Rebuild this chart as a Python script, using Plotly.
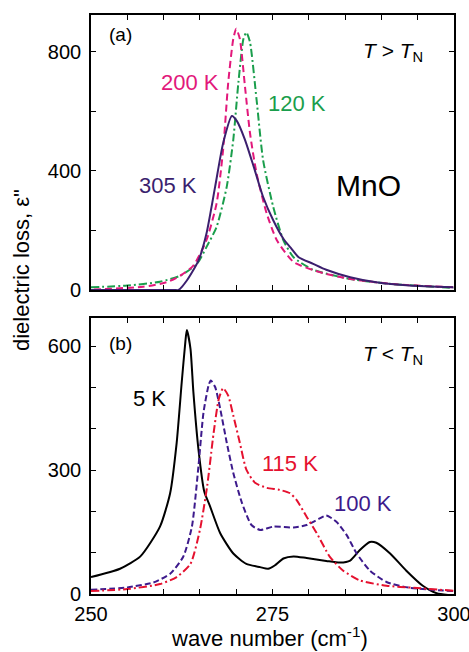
import plotly.graph_objects as go

# ---------------- data ----------------
# Panel (a): T > T_N
x_305 = [250.0, 261.5, 262.05, 263.2, 264.8, 265.9, 267.1, 268.2, 269.4, 270.1, 271.2, 272.4, 273.7,
         275.1, 276.5, 277.6, 278.6, 280.6, 282.4, 285.7, 289.3, 293.9, 299.9]
y_305 = [0, 0, 0, 32, 99, 189, 347, 493, 584, 567, 505, 415, 313,
         234, 172, 139, 110, 88, 68, 43, 26, 15, 9]

x_200 = [250.4, 257.2, 260.4, 262.3, 264.1, 265.9, 267.3, 268.2, 268.9, 269.6, 270.0, 270.5, 271.2,
         271.9, 272.8, 274.2, 275.6, 277.9, 281.5, 285.7, 291.6, 299.9]
y_200 = [2, 11, 26, 48, 82, 167, 291, 471, 696, 843, 877, 843, 685,
         527, 392, 257, 167, 94, 60, 37, 20, 9]

x_120 = [250.0, 255.0, 259.5, 262.3, 264.6, 265.9, 267.3, 268.7, 269.6, 270.3, 271.0, 271.4, 271.9,
         272.8, 273.7, 275.1, 276.5, 277.9, 280.6, 285.7, 291.6, 299.9]
y_120 = [9, 15, 28, 48, 88, 144, 212, 347, 505, 696, 843, 865, 832,
         640, 437, 279, 167, 110, 68, 37, 20, 7]

# Panel (b): T < T_N
x_5 = [250.0, 254.0, 256.8, 259.5, 260.9, 261.8, 262.5, 263.0, 263.2, 263.7, 264.1, 264.8, 265.6,
       266.4, 267.8, 269.6, 271.4, 273.3, 274.4, 275.3, 276.5, 277.9, 279.7, 282.4, 284.3, 285.7,
       287.0, 288.4, 289.3, 291.2, 293.4, 295.7, 297.6, 300.0]
y_5 = [41, 61, 91, 163, 244, 366, 513, 611, 639, 594, 489, 350, 248,
       212, 147, 98, 73, 65, 61, 69, 86, 91, 87, 80, 76, 81,
       106, 126, 124, 98, 57, 20, 2, -4]

x_100 = [250.0, 255.0, 258.6, 260.9, 262.7, 263.9, 264.8, 265.5, 266.2, 266.5, 267.1, 267.8, 268.7,
         269.6, 270.8, 272.1, 273.3, 275.1, 277.9, 279.7, 281.5, 282.4, 283.8, 285.2, 286.6, 288.4,
         290.7, 293.9, 299.9]
y_100 = [10, 16, 28, 49, 90, 163, 309, 440, 505, 517, 501, 448, 366,
         293, 220, 167, 155, 163, 161, 167, 183, 190, 175, 143, 98, 57,
         29, 15, 7]

x_115 = [250.0, 255.0, 259.5, 261.8, 263.7, 265.0, 266.0, 266.9, 267.6, 268.2, 268.9, 269.6, 270.5,
         271.4, 272.6, 274.2, 276.0, 277.4, 278.3, 279.7, 281.1, 282.9, 284.7, 287.0, 290.7, 294.4,
         299.9]
y_115 = [7, 12, 24, 41, 73, 155, 261, 391, 472, 498, 480, 432, 366,
         301, 269, 257, 252, 244, 228, 187, 147, 90, 57, 33, 20, 15,
         8]

x_ticks = [250, 255, 260, 265, 270, 275, 280, 285, 290, 295, 300]
x_ticklabels = ["250", "", "", "", "", "275", "", "", "", "", "300"]
ya_ticks = [0, 200, 400, 600, 800]
ya_ticklabels = ["0", "", "400", "", "800"]
yb_ticks = [0, 100, 200, 300, 400, 500, 600]
yb_ticklabels = ["0", "", "", "300", "", "", "600"]

# ---------------- styles ----------------
C_305 = "#3b1f6e"
C_200 = "#e2187b"
C_120 = "#1a9e4c"
C_5 = "#000000"
C_100 = "#3d1a8c"
C_115 = "#e5112f"
FONT = "Liberation Sans, Arial, sans-serif"

fig = go.Figure()

def add(x, y, color, dash, xa, ya):
    fig.add_trace(go.Scatter(x=x, y=y, mode="lines", xaxis=xa, yaxis=ya,
                             line=dict(color=color, width=2, dash=dash, shape="spline", smoothing=0.6),
                             showlegend=False, hoverinfo="skip"))

add(x_120, y_120, C_120, "8px,3px,2px,3px", "x", "y")
add(x_200, y_200, C_200, "7px,4px", "x", "y")
add(x_305, y_305, C_305, "solid", "x", "y")

add(x_5, y_5, C_5, "solid", "x2", "y2")
add(x_100, y_100, C_100, "6px,3px", "x2", "y2")
add(x_115, y_115, C_115, "8px,3px,2px,3px", "x2", "y2")

axis_common = dict(showline=True, linecolor="black", linewidth=1.6, mirror="ticks",
                   ticks="inside", ticklen=5, tickwidth=1.4, tickcolor="black",
                   showgrid=False, zeroline=False, ticklabeloverflow="allow", automargin=False,
                   tickfont=dict(family=FONT, size=20, color="black"))

fig.update_layout(
    width=469, height=652,
    margin=dict(l=91, r=15, t=15, b=58),
    paper_bgcolor="white", plot_bgcolor="white",
    xaxis=dict(axis_common, domain=[0, 1], range=[250, 300], anchor="y",
               tickvals=x_ticks, ticktext=x_ticklabels, showticklabels=False),
    yaxis=dict(axis_common, domain=[0.525, 1.0], range=[0, 923], anchor="x",
               tickvals=ya_ticks, ticktext=ya_ticklabels, ticklabelstandoff=4),
    xaxis2=dict(axis_common, domain=[0, 1], range=[250, 300], anchor="y2",
                tickvals=x_ticks, ticktext=x_ticklabels, ticklabelstandoff=1),
    yaxis2=dict(axis_common, domain=[0, 0.4767], range=[0, 668], anchor="x2",
                tickvals=yb_ticks, ticktext=yb_ticklabels, ticklabelstandoff=4),
)

def ann(text, x, y, color="black", size=22, xref="x", yref="y", xanchor="center", yanchor="middle", angle=0):
    fig.add_annotation(text=text, x=x, y=y, xref=xref, yref=yref, showarrow=False,
                       xanchor=xanchor, yanchor=yanchor, textangle=angle,
                       font=dict(family=FONT, size=size, color=color))

ann("(a)", 254.0, 856, size=19)
ann("<i>T</i> &gt; <i>T</i><sub>N</sub>", 296.0, 799, size=21, xanchor="right")
ann("200 K", 263.6, 695, color=C_200)
ann("120 K", 278.4, 627, color=C_120)
ann("305 K", 260.6, 352, color=C_305)
ann("MnO", 288.2, 352, size=30)

ann("(b)", 254.0, 607, size=19, xref="x2", yref="y2")
ann("<i>T</i> &lt; <i>T</i><sub>N</sub>", 296.0, 578, size=21, xref="x2", yref="y2", xanchor="right")
ann("5 K", 258.1, 474, xref="x2", yref="y2")
ann("115 K", 277.4, 317, color=C_115, xref="x2", yref="y2")
ann("100 K", 287.5, 220, color=C_100, xref="x2", yref="y2")

ann("wave number (cm<sup>-1</sup>)", 0.493, -0.0735, size=22, xref="paper", yref="paper")
ann("dielectric loss, ε\"", -0.19, 0.5596, size=22, xref="paper", yref="paper", angle=-90)

fig.write_html("out.html", config={"displayModeBar": False},
               post_script="document.body.style.margin='0px';document.body.style.padding='0px';")
